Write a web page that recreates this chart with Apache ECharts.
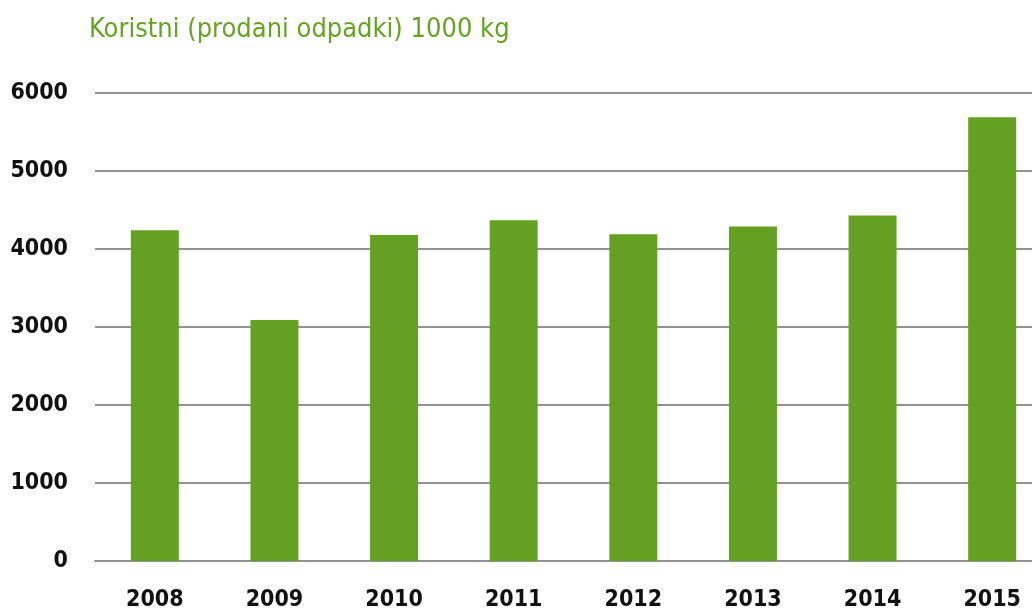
<!DOCTYPE html>
<html>
<head>
<meta charset="utf-8">
<script src="https://cdn.jsdelivr.net/npm/echarts@6/dist/echarts.min.js"></script>
<style>html,body{margin:0;padding:0;background:#fff;overflow:hidden;width:1032px;height:614px}#c{width:1052px;height:614px}</style>
</head>
<body>
<div id="c"></div>
<script>
var titleText = 'Koristni (prodani odpadki) 1000 kg';
var categories = ['2008','2009','2010','2011','2012','2013','2014','2015'];
var values = [4240, 3090, 4180, 4370, 4190, 4290, 4430, 5690];
var yTicks = [0, 1000, 2000, 3000, 4000, 5000, 6000];

var font = '"DejaVu Sans Condensed", "Liberation Sans", sans-serif';
var chart = echarts.init(document.getElementById('c'), null, {renderer: 'canvas'});
chart.setOption({
  animation: false,
  backgroundColor: '#fff',
  title: {
    text: titleText, left: 84, top: 11,
    textStyle: {color: '#66a224', fontSize: 27, fontWeight: 'normal', fontFamily: font}
  },
  grid: {left: 95, right: 0, top: 93, bottom: 53, containLabel: false},
  xAxis: {
    type: 'category', data: categories,
    axisLine: {show: true, lineStyle: {color: '#929292', width: 2}},
    axisTick: {show: false},
    axisLabel: {color: '#111', fontSize: 23, fontWeight: 'bold', fontFamily: font, margin: 28}
  },
  yAxis: {
    type: 'value', min: yTicks[0], max: yTicks[yTicks.length-1], interval: 1000,
    axisLine: {show: false}, axisTick: {show: false},
    splitLine: {lineStyle: {color: '#929292', width: 2}},
    axisLabel: {color: '#111', fontSize: 23, fontWeight: 'bold', fontFamily: font, margin: 27,
      formatter: function (v) { return String(v); }}
  },
  series: [{
    type: 'bar', data: values, barWidth: 48,
    itemStyle: {color: '#64a021'}
  }]
});
</script>
</body>
</html>
